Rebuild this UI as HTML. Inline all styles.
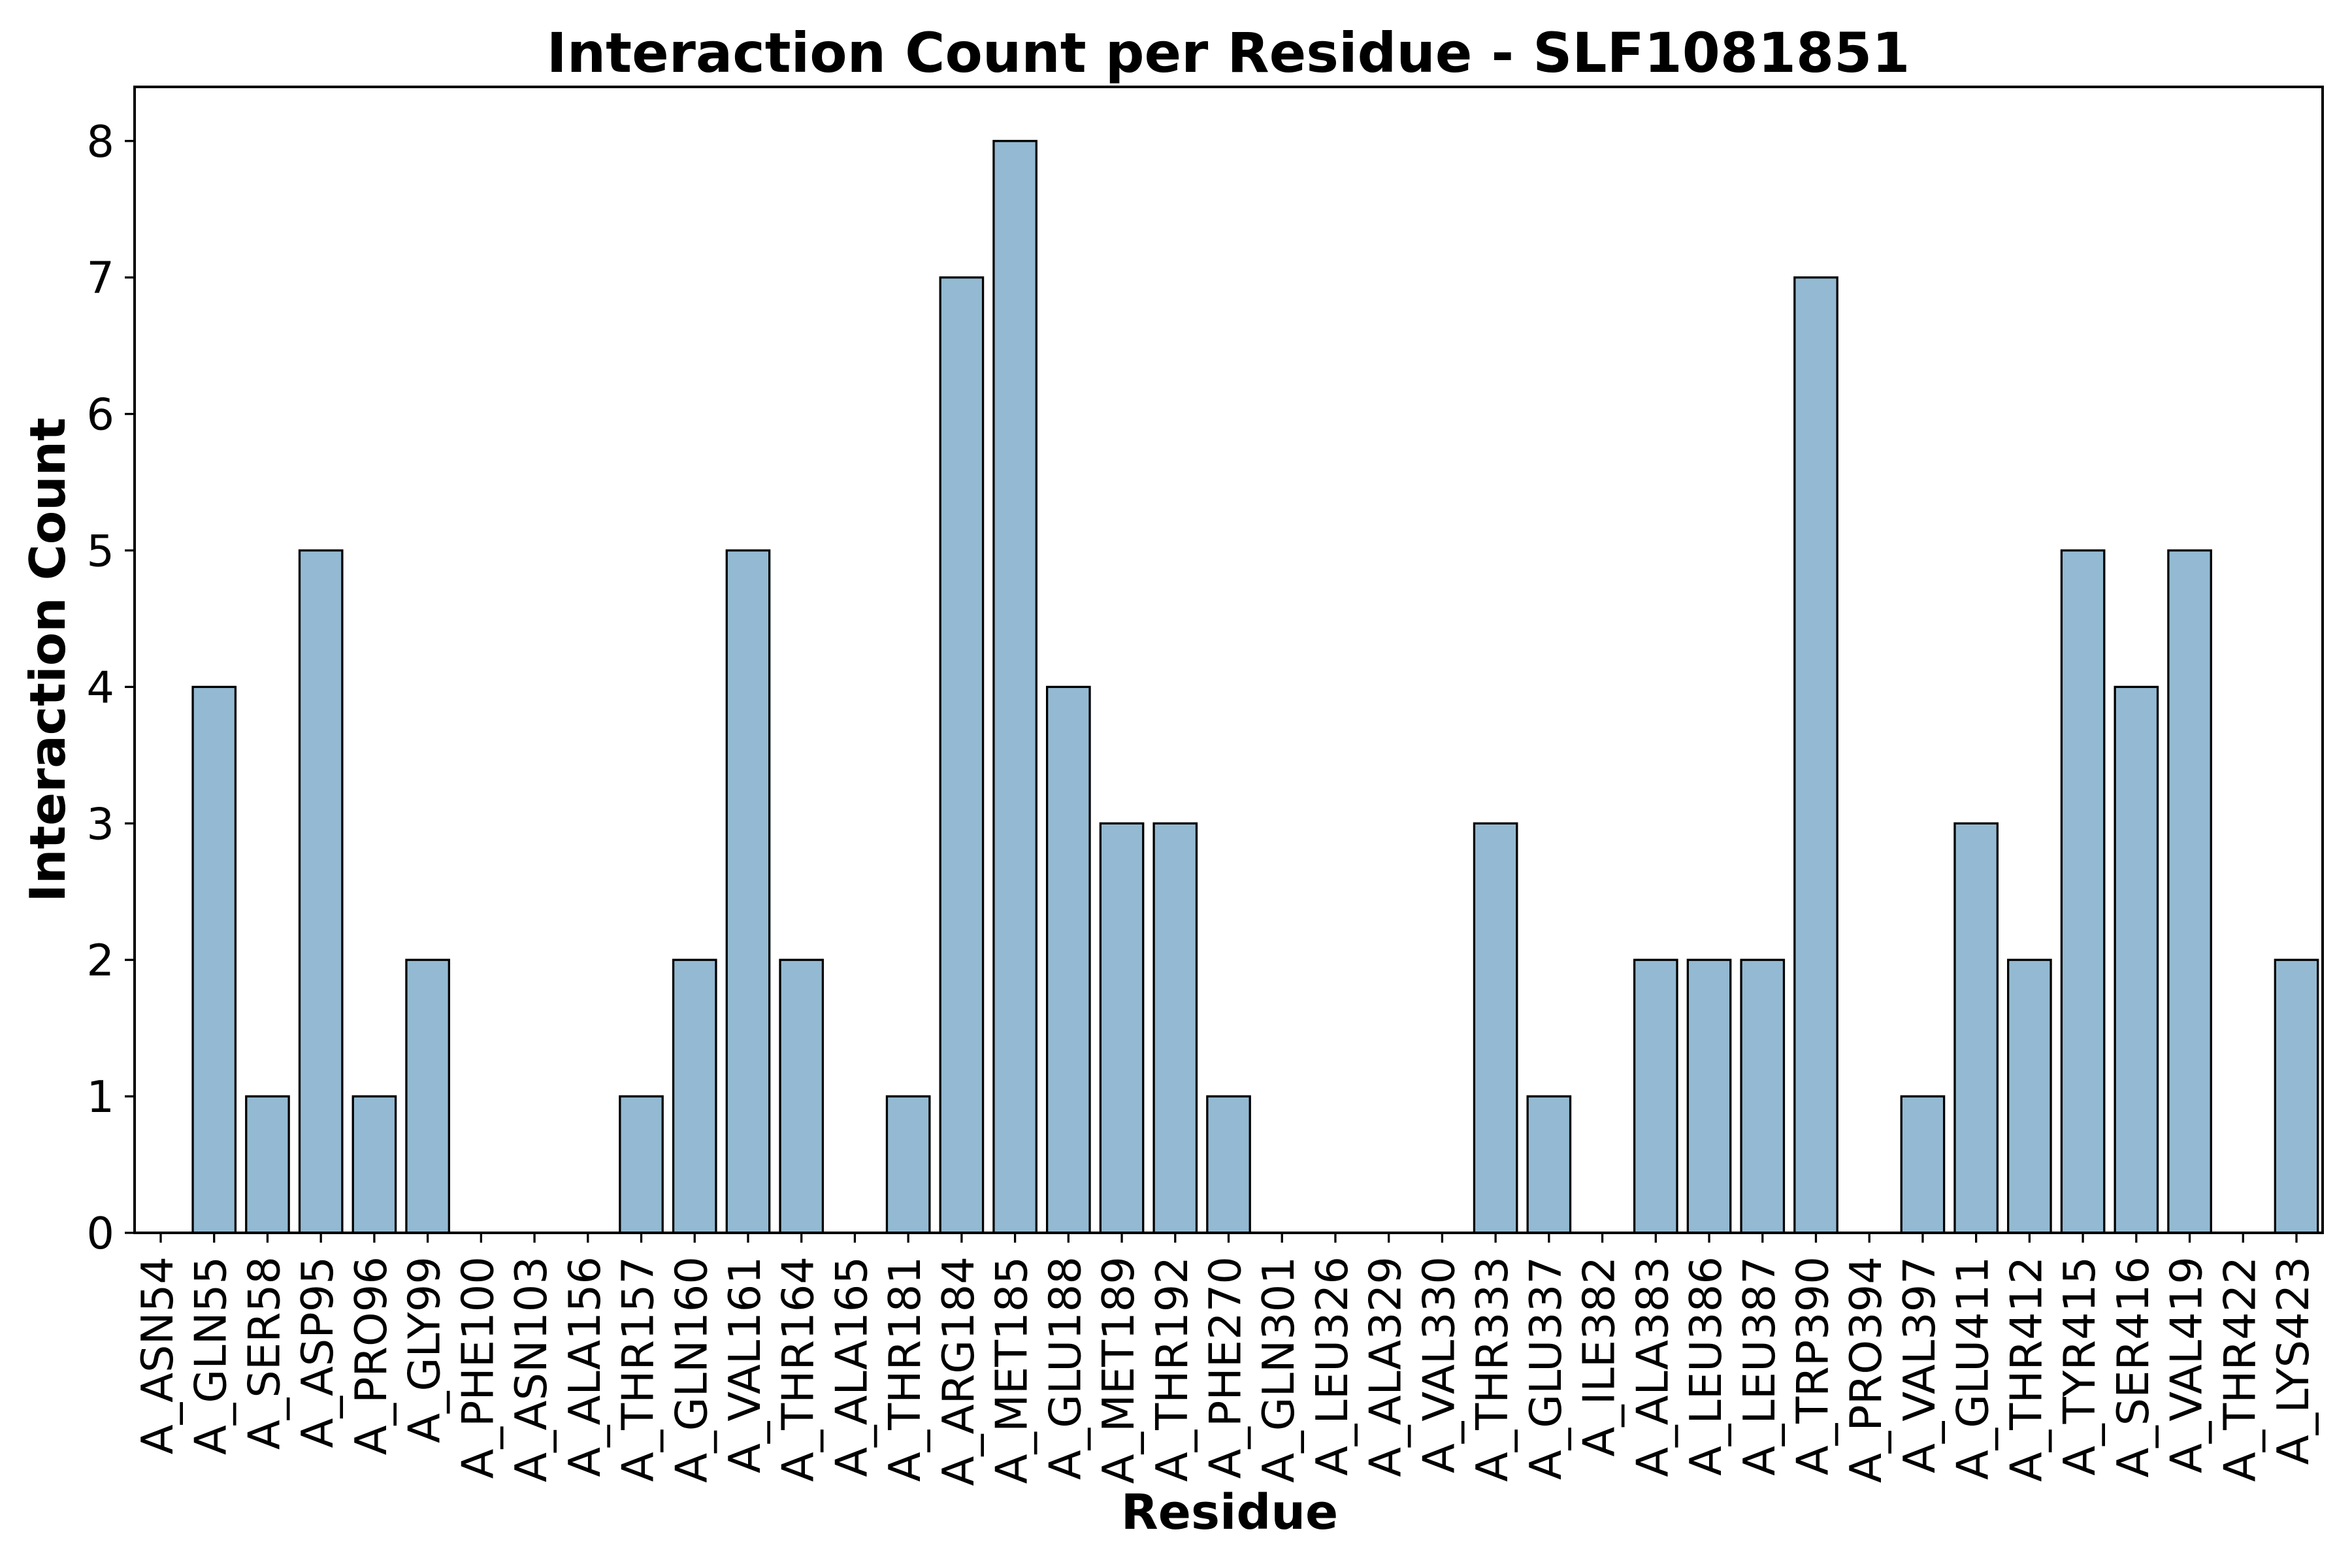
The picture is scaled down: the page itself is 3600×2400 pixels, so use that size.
<!DOCTYPE html>
<html><head><meta charset="utf-8"><style>body{margin:0;background:#fff}svg{display:block}</style></head>
<body>
<svg id="chart" width="3600" height="2400" xmlns="http://www.w3.org/2000/svg" font-family="'DejaVu Sans','Liberation Sans',sans-serif">
<rect width="3600" height="2400" fill="#fff"/>
<g id="bars"></g><g id="xt"></g><g id="yt"></g>
<rect x="206" y="133" width="3349" height="1754" fill="none" stroke="#000" stroke-width="4"/>
<text x="1880" y="110" text-anchor="middle" font-size="83.5" font-weight="bold">Interaction Count per Residue - SLF1081851</text>
<text x="1882" y="2340" text-anchor="middle" font-size="74" font-weight="bold">Residue</text>
<text transform="translate(99,1010) rotate(-90)" text-anchor="middle" font-size="75" font-weight="bold">Interaction Count</text>
</svg>
<script>
const categories=["A_ASN54","A_GLN55","A_SER58","A_ASP95","A_PRO96","A_GLY99","A_PHE100","A_ASN103","A_ALA156","A_THR157","A_GLN160","A_VAL161","A_THR164","A_ALA165","A_THR181","A_ARG184","A_MET185","A_GLU188","A_MET189","A_THR192","A_PHE270","A_GLN301","A_LEU326","A_ALA329","A_VAL330","A_THR333","A_GLU337","A_ILE382","A_ALA383","A_LEU386","A_LEU387","A_TRP390","A_PRO394","A_VAL397","A_GLU411","A_THR412","A_TYR415","A_SER416","A_VAL419","A_THR422","A_LYS423"];
const counts=[0,4,1,5,1,2,0,0,0,1,2,5,2,0,1,7,8,4,3,3,1,0,0,0,0,3,1,0,2,2,2,7,0,1,3,2,5,4,5,0,2];
const yTicks=[0,1,2,3,4,5,6,7,8];
const NS="http://www.w3.org/2000/svg";
const n=categories.length;
const x0=246,x1=3515,step=(x1-x0)/(n-1);
function xs(i){return x0+i*step;}
function ys(v){return 1887-v*208.9;}
const bw=step*0.8;
const gb=document.getElementById('bars'),gx=document.getElementById('xt'),gy=document.getElementById('yt');
function mk(tag,a){const e=document.createElementNS(NS,tag);for(const k in a)e.setAttribute(k,a[k]);return e;}
counts.forEach((v,i)=>{
  const r=mk('rect',{x:xs(i)-bw/2,y:ys(v),width:bw,height:ys(0)-ys(v),fill:'#93bad2',stroke:'#000','stroke-width':3.3});
  
  
  gb.appendChild(r);
});
categories.forEach((c,i)=>{
  const x=xs(i);
  const t=mk('line',{x1:x,x2:x,y1:1887,y2:1902,stroke:'#000','stroke-width':3.3});
  
  
  gx.appendChild(t);
  const l=mk('text',{transform:`translate(${x+18},1923) rotate(-90)`,'text-anchor':'end','font-size':67});
  l.textContent=c;
  
  
  gx.appendChild(l);
});
yTicks.forEach(v=>{
  const y=ys(v);
  const t=mk('line',{x1:191,x2:206,y1:y,y2:y,stroke:'#000','stroke-width':3.3});
  
  
  gy.appendChild(t);
  const l=mk('text',{x:175,y:y+24,'text-anchor':'end','font-size':67});
  l.textContent=v;
  
  
  gy.appendChild(l);
});
</script>
</body></html>
